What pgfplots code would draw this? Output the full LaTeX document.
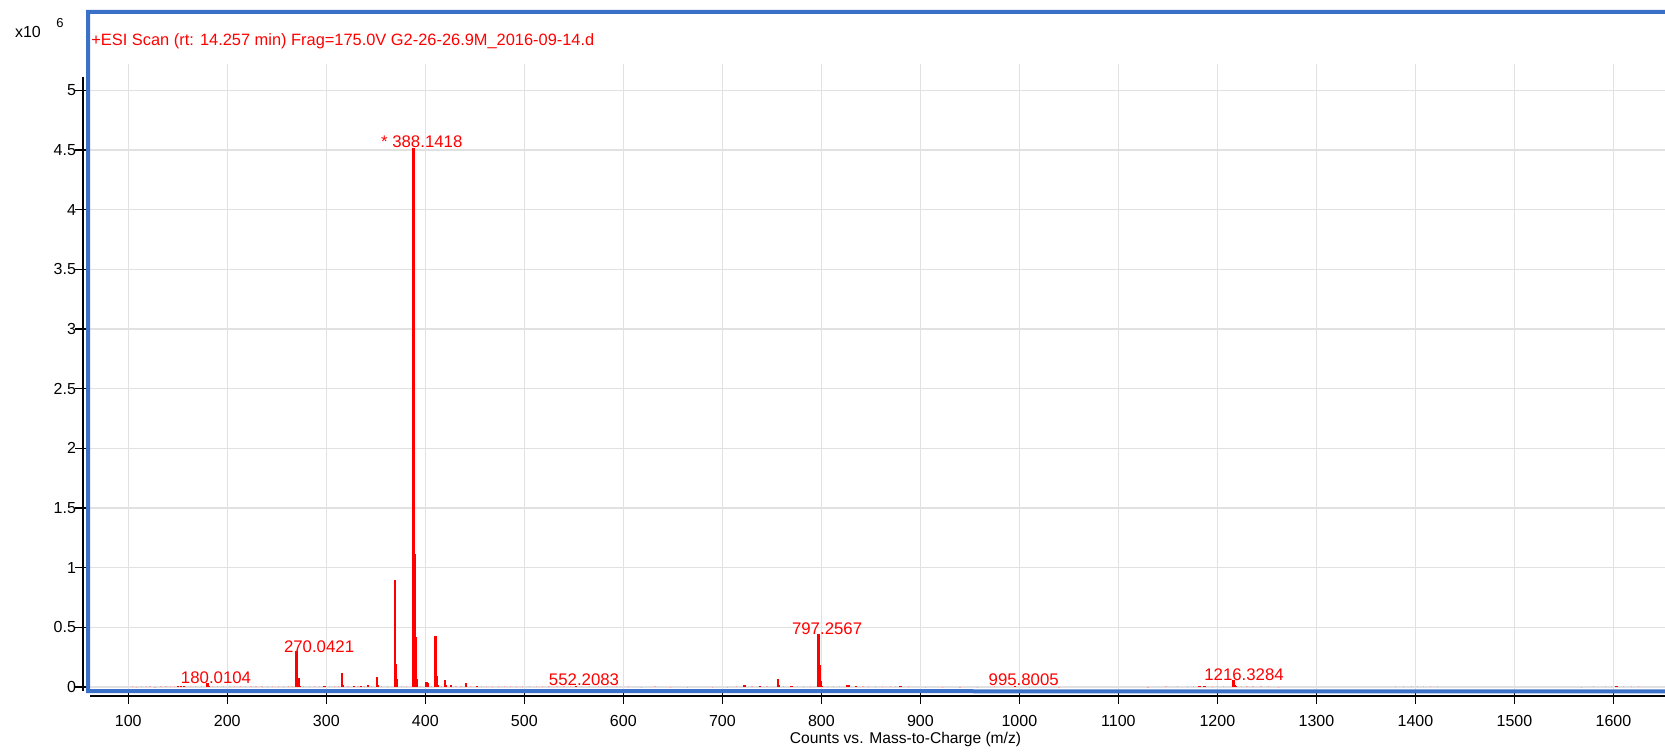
\documentclass[border=0pt]{standalone}
\usepackage{pgfplots}
\pgfplotsset{compat=1.18}
\usepackage{fontspec}
\setmainfont{Liberation Sans}
\definecolor{frameblue}{RGB}{58,112,200}
\definecolor{gridgray}{RGB}{225,225,225}
\definecolor{peakred}{RGB}{255,0,0}

\begin{document}
\begin{tikzpicture}
\begin{axis}[
  scale only axis,
  width=788.5pt, height=313.5pt,
  xmin=59.3, xmax=1652.1,
  ymin=-0.034, ymax=5.22,
  xtick={100,200,300,400,500,600,700,800,900,1000,1100,1200,1300,1400,1500,1600},
  xticklabels={100,200,300,400,500,600,700,800,900,1000,1100,1200,1300,1400,1500,1600},
  ytick={0,0.5,1,1.5,2,2.5,3,3.5,4,4.5,5},
  yticklabels={0,0.5,1,1.5,2,2.5,3,3.5,4,4.5,5},
  grid=major,
  major grid style={gridgray, line width=0.75pt},
  axis line style={draw=none},
  tick align=outside,
  major tick length=6.5pt,
  tick style={black, line width=0.6pt},
  xtick pos=bottom, ytick pos=left,
  ticklabel style={font=\fontsize{8}{9}\selectfont},
  yticklabel style={xshift=4pt},
  xticklabel style={yshift=-2pt},
  /pgf/number format/assume math mode=true,
  scaled y ticks=false,
  clip=false,
]
% background noise
\addplot[ycomb, mark=none, red!35, line width=0.6pt] coordinates {
(104,0.004)(108,0.003)(113,0.005)(118,0.004)(122,0.006)(127,0.003)(133,0.004)(138,0.005)(143,0.004)(147,0.006)
(158,0.005)(163,0.004)(168,0.006)(174,0.004)(185,0.005)(190,0.004)(196,0.006)(202,0.004)(207,0.005)(213,0.004)
(218,0.006)(224,0.004)(229,0.005)(235,0.004)(241,0.006)(246,0.005)(252,0.004)(257,0.006)(262,0.005)(266,0.004)
(277,0.005)(283,0.004)(288,0.006)(293,0.004)(303,0.005)(308,0.004)(312,0.006)(322,0.005)(332,0.004)(338,0.006)
(346,0.005)(356,0.004)(362,0.005)(376,0.004)(381,0.006)(395,0.005)(406,0.006)(416,0.005)(431,0.006)(436,0.005)
(446,0.004)(457,0.006)(462,0.004)(468,0.005)(474,0.004)(480,0.005)(486,0.004)(492,0.005)(498,0.004)(505,0.005)
(512,0.004)(518,0.005)(525,0.004)(533,0.005)(540,0.004)(547,0.005)(558,0.004)(566,0.004)(575,0.005)(584,0.004)
(593,0.004)(605,0.004)(618,0.003)(632,0.004)(648,0.003)(665,0.003)(690,0.003)(705,0.003)(714,0.004)(730,0.005)
(745,0.005)(762,0.006)(776,0.005)(782,0.006)(789,0.005)(806,0.006)(812,0.005)(818,0.006)(842,0.005)(848,0.005)
(855,0.004)(862,0.005)(870,0.004)(875,0.005)(888,0.004)(905,0.003)(922,0.003)(940,0.003)(958,0.003)(975,0.004)
(1010,0.003)(1040,0.003)(1130,0.003)(1148,0.004)(1160,0.004)(1170,0.005)(1176,0.006)(1195,0.006)(1200,0.005)
(1206,0.006)(1224,0.006)(1230,0.005)(1236,0.005)(1244,0.004)(1252,0.004)(1262,0.003)(1380,0.004)(1388,0.005)
(1396,0.004)(1402,0.005)(1408,0.004)(1415,0.005)(1422,0.004)(1568,0.003)(1580,0.004)(1592,0.004)(1598,0.005)
(1610,0.005)(1618,0.004)(1625,0.004)
};
% main peaks
\addplot[ycomb, mark=none, peakred, line width=1.2pt] coordinates {
(150,0.008)(153,0.012)(156,0.01)(180.01,0.035)(181.01,0.01)
(270.04,0.30)(271.04,0.03)(272.04,0.075)(273.04,0.012)(298,0.01)
(316.0,0.12)(317.0,0.015)(328,0.012)(335,0.01)(342,0.015)
(351.1,0.085)(352.1,0.015)(369.1,0.90)(370.1,0.19)(371.1,0.07)
(388.14,4.52)(389.14,1.11)(390.14,0.42)(391.14,0.07)
(401,0.04)(402,0.035)(403,0.02)(410.1,0.43)(411.1,0.09)(412.1,0.02)
(420.1,0.06)(421.1,0.015)(426,0.015)(441,0.035)(452,0.01)(552.21,0.008)
(722.5,0.02)(738,0.012)(756.3,0.07)(757.3,0.02)(770,0.01)
(797.26,0.44)(798.26,0.18)(799.26,0.05)(800.3,0.01)
(826,0.02)(828,0.015)(835,0.01)(880,0.006)(995.8,0.004)
(1182,0.01)(1187,0.01)(1216.33,0.055)(1217.33,0.02)(1218.3,0.01)(1603,0.01)
};
% peak annotations
\begin{scope}[font=\fontsize{8.4}{10}\selectfont, text=peakred]
\node at (axis cs:188.6,0.08) {180.0104};
\node at (axis cs:292.7,0.34) {270.0421};
\node at (axis cs:396.4,4.57) {* 388.1418};
\node at (axis cs:560.3,0.06) {552.2083};
\node at (axis cs:805.8,0.49) {797.2567};
\node at (axis cs:1004.4,0.06) {995.8005};
\node at (axis cs:1226.9,0.106) {1216.3284};
\end{scope}
\end{axis}
\pgfresetboundingbox
\useasboundingbox ([xshift=-44pt,yshift=-30pt]current axis.south west) rectangle ([yshift=32pt]current axis.north east);
% offset black axis lines
\draw[black, line width=0.75pt] ([xshift=-2.5pt,yshift=-6.5pt]current axis.north west) -- ([xshift=-2.5pt]current axis.south west);
\draw[black, line width=0.75pt] ([xshift=1pt,yshift=-2.5pt]current axis.south west) -- ([yshift=-2.5pt]current axis.south east);
% blue frame
\draw[frameblue, line width=2pt] ([yshift=-0.2pt]current axis.south east) -- (current axis.south west) -- ([yshift=26pt]current axis.north west) -- ([yshift=26pt]current axis.north east);
% title and scale
\node[anchor=west, text=peakred, font=\fontsize{8.2}{9}\selectfont, inner sep=0pt] at ([xshift=1.5pt,yshift=11.5pt]current axis.north west) {+ESI Scan (rt: 14.257 min) Frag=175.0V G2-26-26.9M\_2016-09-14.d};
\node[font=\fontsize{8}{9}\selectfont, inner sep=0pt] at ([xshift=-30pt,yshift=16pt]current axis.north west) {x10};
\node[font=\fontsize{6.5}{8}\selectfont, inner sep=0pt] at ([xshift=-14pt,yshift=20.5pt]current axis.north west) {6};
\node[font=\fontsize{7.8}{9}\selectfont, inner sep=0pt] at ([xshift=408.75pt,yshift=-24pt]current axis.south west) {Counts vs. Mass-to-Charge (m/z)};
\end{tikzpicture}
\end{document}
